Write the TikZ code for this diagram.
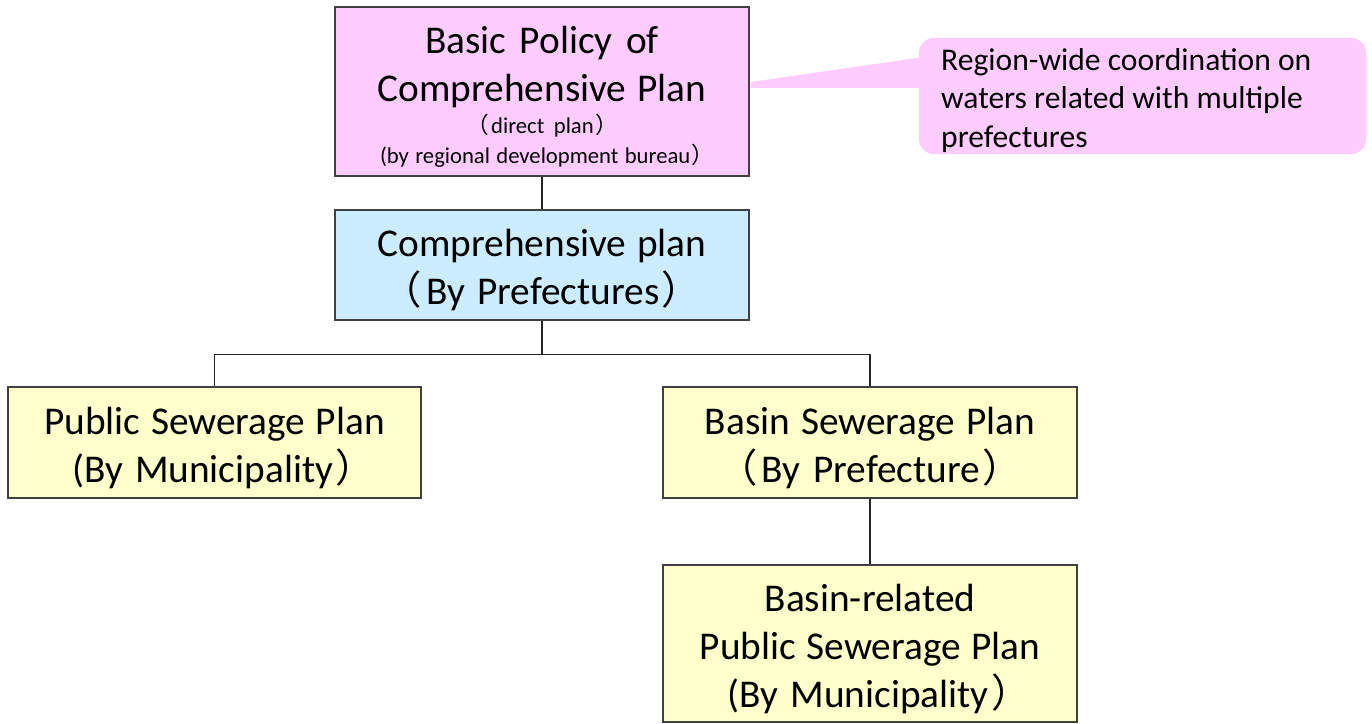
\documentclass[tikz,border=0pt]{standalone}
\usepackage{fontspec}
\setmainfont{Carlito}
\newfontfamily\cjk[RawFeature=+palt]{Noto Sans CJK JP}
\newcommand\lpar{{\cjk （}\kern0.14em}
\newcommand\rpar{\kern0.1em{\cjk ）}}
\newcommand\natsp{\spaceskip=0pt\xspaceskip=0pt\relax}
\newcommand\topstrut{\rule{0pt}{0.97em}}
\usetikzlibrary{calc}
\definecolor{pinkfill}{HTML}{FFCCFF}
\definecolor{bluefill}{HTML}{CCECFF}
\definecolor{yellowfill}{HTML}{FFFFCC}
\definecolor{edgegray}{HTML}{404040}
\tikzset{
  planbox/.style={draw=edgegray, line width=1.1pt, minimum width=310.5pt,
    inner sep=0pt, align=center, text width=300pt,
    font=\fontsize{29.5}{36}\selectfont,
    execute at begin node=\natsp\topstrut},
  link/.style={draw=black!85, line width=1.1pt},
  calloutbox/.style={fill=pinkfill, rounded corners=11pt, minimum width=335.25pt,
    minimum height=87pt, inner sep=0pt, align=left, text width=302pt,
    font=\fontsize{23.7}{29}\selectfont,
    execute at begin node=\natsp\topstrut}
}
\begin{document}
\begin{tikzpicture}[x=0.75pt,y=-0.75pt]
\useasboundingbox (0,0) rectangle (1372,724);
% callout
\node[calloutbox] (callout) at (1142.5,96) {Region-wide coordination on\\waters related with multiple\\prefectures};
\node[planbox, fill=pinkfill, minimum height=126.75pt] (top) at (542,91.5) {};
\fill[pinkfill] ($(top.east)+(1,-9.5)$) -- ($(callout.west)+(12,-40)$) -- ($(callout.west)+(12,-8)$) -- ($(top.east)+(1,-3.5)$) -- cycle;
\node[planbox, minimum height=126.75pt] at (top.center) {Basic Policy of\\Comprehensive Plan\par
  \vspace{2pt}{\fontsize{17}{22.5}\selectfont \lpar direct plan\rpar\\(by regional development bureau\rpar\par}};
\node[planbox, fill=bluefill, minimum height=82.5pt] (pref) at (542,265) {Comprehensive plan\\\lpar By Prefectures\rpar};
\node[planbox, fill=yellowfill, minimum height=83.25pt, minimum width=309.75pt] (public) at (214.5,442.5) {Public Sewerage Plan\\(By Municipality\rpar};
\node[planbox, fill=yellowfill, minimum height=83.25pt] (basin) at (870,442.5) {Basin Sewerage Plan\\\lpar By Prefecture\rpar};
\node[planbox, fill=yellowfill, minimum height=117.75pt] (basinrel) at (870,643.5) {Basin-related\\Public Sewerage Plan\\(By Municipality\rpar};
% connectors
\draw[link] (top.south) -- (pref.north);
\draw[link] (pref.south) -- ++(0,34) -| (public.north);
\draw[link] (pref.south) -- ++(0,34) -| (basin.north);
\draw[link] (basin.south) -- (basinrel.north);
\end{tikzpicture}
\end{document}
